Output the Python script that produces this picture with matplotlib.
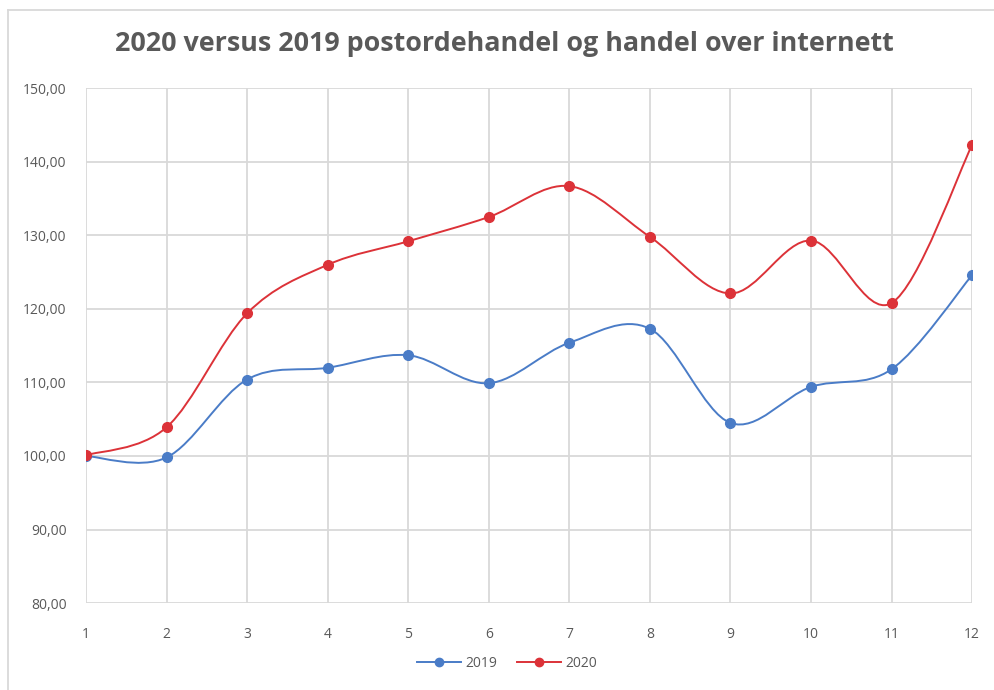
import matplotlib.pyplot as plt
from matplotlib.path import Path
from matplotlib.patches import PathPatch
from matplotlib.lines import Line2D

# Indeks per maaned, 2019 og 2020
maaneder = [1, 2, 3, 4, 5, 6, 7, 8, 9, 10, 11, 12]
verdier2019 = [100.0, 99.8, 110.4, 112.0, 113.7, 109.9, 115.4, 117.3, 104.5, 109.4, 111.8, 124.6]
verdier2020 = [100.1, 103.9, 119.4, 126.0, 129.2, 132.5, 136.7, 129.8, 122.1, 129.3, 120.8, 142.3]
ytikker = [80, 90, 100, 110, 120, 130, 140, 150]

plt.rcParams['font.family'] = ['Open Sans', 'DejaVu Sans']


# Glatt kurve gjennom punktene (Bezier, Catmull-Rom-stil)
def glattSti(xs, ys):
    pts = list(zip(xs, ys))
    n = len(pts)
    verts = [pts[0]]
    codes = [Path.MOVETO]
    for i in range(n - 1):
        p0 = pts[i - 1] if i > 0 else pts[i]
        p1 = pts[i]
        p2 = pts[i + 1]
        p3 = pts[i + 2] if i + 2 < n else pts[i + 1]
        c1 = (p1[0] + (p2[0] - p0[0]) / 6, p1[1] + (p2[1] - p0[1]) / 6)
        c2 = (p2[0] - (p3[0] - p1[0]) / 6, p2[1] - (p3[1] - p1[1]) / 6)
        verts += [c1, c2, p2]
        codes += [Path.CURVE4] * 3
    return Path(verts, codes)


fig = plt.figure(figsize=(9.94, 6.9), dpi=100)
ax = fig.add_axes([0.0865, 0.126, 0.8915, 0.746])

gray = '#595959'
blaa = '#4a7cc7'
roed = '#dc3238'

for ys, farge, navn in [(verdier2019, blaa, '2019'), (verdier2020, roed, '2020')]:
    ax.add_patch(PathPatch(glattSti(maaneder, ys), facecolor='none',
                           edgecolor=farge, lw=1.4, zorder=3))
    ax.plot(maaneder, ys, ls='none', marker='o', ms=7, color=farge,
            markeredgecolor=farge, zorder=4, label=navn)

ax.set_xlim(1, 12)
ax.set_ylim(80, 150)
ax.set_xticks(maaneder)
ax.set_yticks(ytikker)
ax.set_yticklabels([f'{v},00' for v in ytikker])
ax.grid(True, color='#d9d9d9', lw=1.3, zorder=0)
for s in ax.spines.values():
    s.set_visible(False)
ax.tick_params(length=0, colors=gray, labelsize=10)
ax.tick_params(axis='y', pad=14)
ax.tick_params(axis='x', pad=17)

fig.text(0.507, 0.936, '2020 versus 2019 postordehandel og handel over internett',
         fontsize=19.4, fontweight='bold', color=gray, ha='center', va='center')

handles = [Line2D([0], [0], color=blaa, marker='o', ms=6, lw=1.4),
           Line2D([0], [0], color=roed, marker='o', ms=6, lw=1.4)]
leg = fig.legend(handles, ['2019', '2020'], loc='center', ncol=2,
                 bbox_to_anchor=(0.51, 0.038), frameon=False, fontsize=10,
                 handlelength=3.2, columnspacing=1.4, handletextpad=0.3)
for t in leg.get_texts():
    t.set_color(gray)

# Ramme oppe og til venstre
fig.add_artist(Line2D([0.008, 1.0], [0.986, 0.986], color='#d9d9d9', lw=1.3))
fig.add_artist(Line2D([0.008, 0.008], [0.0, 0.986], color='#d9d9d9', lw=1.3))

plt.savefig('out.png')
